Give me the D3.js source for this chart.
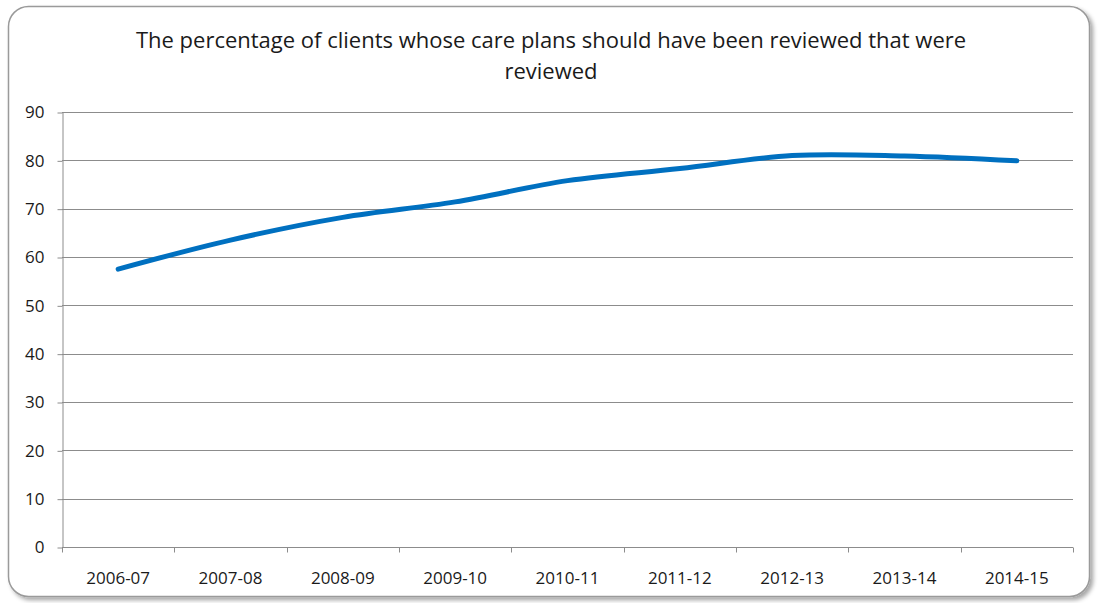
<!DOCTYPE html>
<html>
<head>
<meta charset="utf-8">
<script src="https://cdn.jsdelivr.net/npm/d3@7"></script>
<style>
  html, body { margin: 0; padding: 0; background: #ffffff; }
  svg { display: block; }
  text { font-family: "Open Sans", "Noto Sans", sans-serif; fill: #1a1a1a; }
</style>
</head>
<body>
<svg id="chart" width="1101" height="603"></svg>
<script>
// Financial years on the category axis
const years = ["2006-07", "2007-08", "2008-09", "2009-10", "2010-11",
               "2011-12", "2012-13", "2013-14", "2014-15"];
// Percentage of clients whose care plans were reviewed
const reviewedPct = [57.5, 63.5, 68.2, 71.4, 75.8, 78.3, 81.0, 80.9, 79.9];
// Value axis ticks
const yTicks = [0, 10, 20, 30, 40, 50, 60, 70, 80, 90];
const titleLines = [
  "The percentage of clients whose care plans should have been reviewed that were",
  "reviewed"
];

const svg = d3.select("#chart");

// Chart frame with soft shadow
const defs = svg.append("defs");
const f = defs.append("filter").attr("id", "shadow")
  .attr("x", "-5%").attr("y", "-5%").attr("width", "110%").attr("height", "110%");
f.append("feDropShadow").attr("dx", 3).attr("dy", 3).attr("stdDeviation", 2)
  .attr("flood-color", "#000").attr("flood-opacity", 0.35);

svg.append("rect")
  .attr("x", 8.5).attr("y", 6.5).attr("width", 1081).attr("height", 590)
  .attr("rx", 20).attr("ry", 20)
  .attr("fill", "#ffffff").attr("stroke", "#9a9a9a").attr("stroke-width", 1.5)
  .attr("filter", "url(#shadow)");

// Title
svg.append("g").selectAll("text").data(titleLines).join("text")
  .attr("x", 551).attr("y", (d, i) => 48 + i * 31)
  .attr("text-anchor", "middle")
  .style("font-size", "22px")
  .text(d => d);

const plot = { left: 62, right: 1073, top: 112, bottom: 547 };

const x = d3.scaleBand().domain(years).range([plot.left, plot.right]).paddingInner(0).paddingOuter(0);
const y = d3.scaleLinear().domain([0, 90]).range([plot.bottom, plot.top]);

// Horizontal gridlines
svg.append("g").selectAll("line").data(yTicks.filter(t => t > 0)).join("line")
  .attr("x1", plot.left).attr("x2", plot.right)
  .attr("y1", d => Math.round(y(d)) + 0.5).attr("y2", d => Math.round(y(d)) + 0.5)
  .attr("stroke", "#8c8c8c").attr("stroke-width", 1);

// Y axis
const yAxis = svg.append("g")
  .attr("transform", `translate(${plot.left + 0.5},0.5)`)
  .call(d3.axisLeft(y).tickValues(yTicks).tickSize(5).tickPadding(13).tickSizeOuter(0));
yAxis.select(".domain").attr("stroke", "#8c8c8c");
yAxis.selectAll(".tick line").attr("stroke", "#8c8c8c");
yAxis.selectAll(".tick text")
  .style("font-size", "17px").style("font-family", "'Open Sans', sans-serif")
  .attr("fill", "#1a1a1a");

// X axis: ticks between categories, labels centred in bands
const xg = svg.append("g").attr("transform", `translate(0,${Math.round(plot.bottom) + 0.5})`);
xg.append("line").attr("x1", plot.left).attr("x2", plot.right).attr("y1", 0).attr("y2", 0)
  .attr("stroke", "#8c8c8c");
const boundaries = years.map(d => x(d)).concat([plot.right]);
xg.selectAll("line.tk").data(boundaries).join("line").attr("class", "tk")
  .attr("x1", d => Math.round(d) + 0.5).attr("x2", d => Math.round(d) + 0.5)
  .attr("y1", 0).attr("y2", 5).attr("stroke", "#8c8c8c");
xg.selectAll("text").data(years).join("text")
  .attr("x", d => x(d) + x.bandwidth() / 2)
  .attr("y", 36)
  .attr("text-anchor", "middle")
  .style("font-size", "17px")
  .text(d => d);

// Smoothed data line
const line = d3.line()
  .x((d, i) => x(years[i]) + x.bandwidth() / 2)
  .y(d => y(d))
  .curve(d3.curveCatmullRom.alpha(0.5));

svg.append("path")
  .datum(reviewedPct)
  .attr("d", line)
  .attr("fill", "none")
  .attr("stroke", "#0070c0")
  .attr("stroke-width", 5)
  .attr("stroke-linecap", "round")
  .attr("stroke-linejoin", "round");
</script>
</body>
</html>
